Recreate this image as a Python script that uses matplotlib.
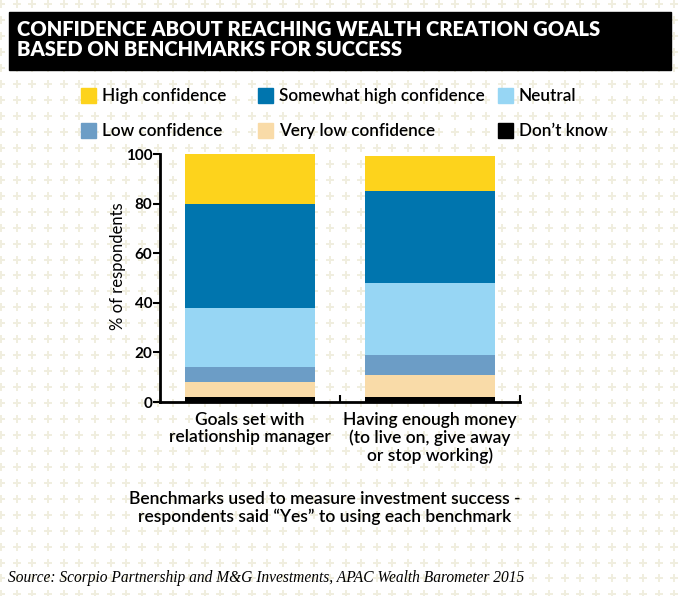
#!/usr/bin/env python3
"""
Stacked bar chart: confidence about reaching wealth creation goals,
split by the benchmark used to measure investment success.
"""

import numpy as np
import matplotlib
matplotlib.use("Agg")
import matplotlib.pyplot as plt
from matplotlib.patches import Rectangle

W, H = 685, 596

# --- data (bottom segment first) ---
categories = ["Goals set with\nrelationship manager",
              "Having enough money\n(to live on, give away\nor stop working)"]
segments = ["Don\u2019t know", "Very low confidence", "Low confidence",
            "Neutral", "Somewhat high confidence", "High confidence"]
dont_know = [2, 2]
very_low = [6, 9]
low = [6, 8]
neutral = [24, 29]
somewhat_high = [42, 37]
high = [20, 14]
colors = ["#000000", "#f9dba8", "#6c9dc6", "#97d6f4", "#0075ae", "#fdd31c"]

# legend order as it reads in the picture (row by row)
legend_order = ["High confidence", "Somewhat high confidence", "Neutral",
                "Low confidence", "Very low confidence", "Don\u2019t know"]

title = "CONFIDENCE ABOUT REACHING WEALTH CREATION GOALS\nBASED ON BENCHMARKS FOR SUCCESS"
ylabel = "% of respondents"
caption = ("Benchmarks used to measure investment success -\n"
           "respondents said \u201cYes\u201d to using each benchmark")
source = "Source: Scorpio Partnership and M&G Investments, APAC Wealth Barometer 2015"

SANS = "Lato"
SERIF = "Liberation Serif"


def main():
    plt.rcParams["font.family"] = [SANS, "DejaVu Sans"]
    fig = plt.figure(figsize=(W / 100, H / 100), dpi=100)
    fig.patch.set_facecolor("white")

    # background layer in pixel coordinates (y grows downwards)
    bg = fig.add_axes([0, 0, 1, 1], zorder=0)
    bg.set_xlim(0, W)
    bg.set_ylim(H, 0)
    bg.axis("off")

    # plus pattern
    gx = np.arange(1.0, W + 10, 15.66)
    gy = np.arange(4.3, H + 10, 15.95)
    xx, yy = np.meshgrid(gx, gy)
    bg.scatter(xx.ravel(), yy.ravel(), marker="P", s=36, c="#f0eedf",
               linewidths=0, zorder=1)

    # title box
    bg.add_patch(Rectangle((9, 12), 662, 58, color="black", zorder=2))
    bg.text(17, 20.5, title, color="white", fontsize=14.5, fontweight="heavy",
            va="top", ha="left", linespacing=1.0, zorder=3)

    # legend (manual, three columns)
    col_sq = [81, 258, 498]
    row_y = [96, 131]
    seg_color = dict(zip(segments, colors))
    for i, name in enumerate(legend_order):
        r, c = divmod(i, 3)
        x0 = col_sq[c]
        y0 = row_y[r]
        bg.add_patch(Rectangle((x0, y0 - 8), 15, 15, color=seg_color[name],
                               zorder=3))
        bg.text(x0 + 21, y0, name, fontsize=12.3, fontweight="semibold",
                va="center", ha="left", zorder=3)

    # caption and source
    bg.text(325, 491, caption, fontsize=12.6, fontweight="semibold",
            ha="center", va="top", linespacing=1.12, zorder=3)
    bg.text(8, 578, source, fontsize=11.2, style="italic", family=SERIF,
            ha="left", va="center", zorder=3)

    # main chart
    ax = fig.add_axes([160 / W, (H - 402) / H, 360 / W, 248 / H], zorder=2)
    ax.patch.set_alpha(0)
    x = np.arange(len(categories))
    series = [dont_know, very_low, low, neutral, somewhat_high, high]
    bottom = np.zeros(len(categories))
    for vals, col in zip(series, colors):
        ax.bar(x, vals, width=0.72, bottom=bottom, color=col, linewidth=0)
        bottom += np.array(vals)

    ax.set_xlim(-0.5, 1.5)
    ax.set_ylim(0, 100)
    for s in ["top", "right"]:
        ax.spines[s].set_visible(False)
    ax.spines["left"].set_linewidth(2)
    ax.spines["bottom"].set_linewidth(2)

    ax.set_yticks(np.arange(0, 101, 20))
    ax.tick_params(axis="y", direction="out", length=5, width=1.5,
                   labelsize=11, pad=0.5)
    for lab in ax.get_yticklabels():
        lab.set_fontweight("bold")

    ax.set_xticks([0.5, 1.5])
    ax.set_xticklabels([])
    ax.tick_params(axis="x", which="major", direction="in", length=5, width=1.5)
    ax.set_xticks(x, minor=True)
    ax.set_xticklabels(categories, minor=True, fontsize=12.5,
                       fontweight="semibold", linespacing=1.12)
    ax.tick_params(axis="x", which="minor", length=0, pad=7)

    ax.set_ylabel(ylabel, fontsize=12)
    ax.yaxis.set_label_coords(-0.095, 0.548)

    fig.savefig("out.png", dpi=100)


if __name__ == "__main__":
    main()
